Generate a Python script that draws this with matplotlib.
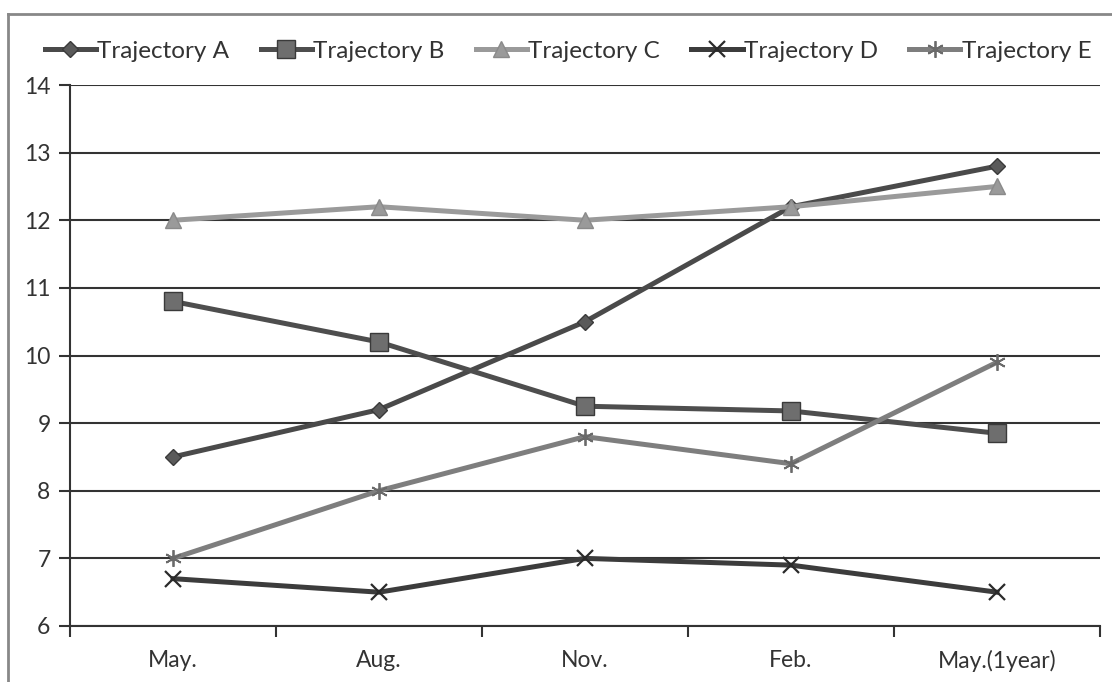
import matplotlib.pyplot as plt
from matplotlib.lines import Line2D

months = ['May.', 'Aug.', 'Nov.', 'Feb.', 'May.(1year)']
traj_a = [8.5, 9.2, 10.5, 12.2, 12.8]
traj_b = [10.8, 10.2, 9.25, 9.18, 8.85]
traj_c = [12.0, 12.2, 12.0, 12.2, 12.5]
traj_d = [6.7, 6.5, 7.0, 6.9, 6.5]
traj_e = [7.0, 8.0, 8.8, 8.4, 9.9]
labels = ['Trajectory A', 'Trajectory B', 'Trajectory C', 'Trajectory D', 'Trajectory E']

plt.rcParams['font.family'] = ['Lato', 'DejaVu Sans']

fig = plt.figure(figsize=(11.12, 6.82), dpi=100)
ax = fig.add_axes([70/1112, 1-626/682, 1030/1112, (626-85)/682])

x = range(len(months))
styles = [
    dict(color='#4a4a4a', marker='D', ms=8, mfc='#5a5a5a', mec='#3a3a3a'),
    dict(color='#4e4e4e', marker='s', ms=13, mfc='#6e6e6e', mec='#3a3a3a'),
    dict(color='#9a9a9a', marker='^', ms=12, mfc='#9a9a9a', mec='#8a8a8a'),
    dict(color='#3c3c3c', marker='x', ms=11, mew=1.6, mec='#2a2a2a'),
    dict(color='#7e7e7e', marker=(6, 2, 0), ms=12, mew=1.3, mec='#6a6a6a'),
]
series = [traj_a, traj_b, traj_c, traj_d, traj_e]
for s, lab, st in zip(series, labels, styles):
    ax.plot(x, s, lw=3.6, label=lab, zorder=3, **st)

ax.set_ylim(6, 14)
ax.set_yticks(range(6, 15))
ax.set_xlim(-0.5, 4.5)
ax.set_xticks(x)
ax.set_xticklabels(months)
ax.set_xticks([i - 0.5 for i in range(6)], minor=True)
ax.tick_params(axis='x', which='major', length=0, pad=17, labelsize=16.5, labelcolor='#333333')
ax.tick_params(axis='x', which='minor', length=8, width=1.5, direction='out', color='#333333')
ax.tick_params(axis='y', length=8, width=1.5, pad=6, labelsize=16.5, labelcolor='#333333', color='#333333')
ax.grid(axis='y', color='#333333', lw=1.5, zorder=1)
for sp in ['top', 'right']:
    ax.spines[sp].set_visible(False)
for sp in ['left', 'bottom']:
    ax.spines[sp].set_color('#333333')
    ax.spines[sp].set_linewidth(1.5)

fig.legend(loc='center', bbox_to_anchor=(568/1112, 1-51/682), ncol=5, frameon=False,
           fontsize=17.5, handlelength=2.1, handletextpad=0.05, columnspacing=1.3,
           labelcolor='#333333')

# outer frame (left and top edge)
fig.add_artist(Line2D([8/1112, 8/1112], [0, 1-14/682], color='#888888', lw=2, transform=fig.transFigure))
fig.add_artist(Line2D([8/1112, 1], [1-14/682, 1-14/682], color='#888888', lw=2, transform=fig.transFigure))

fig.savefig('out.png', dpi=100)
